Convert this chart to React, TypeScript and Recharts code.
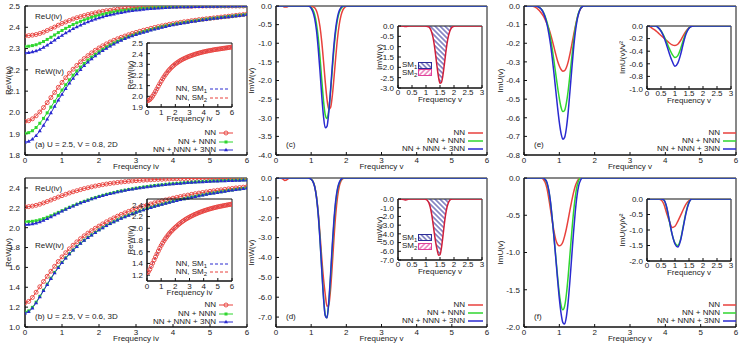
import React from 'react';
import { ComposedChart, Line, Area, XAxis, YAxis, ReferenceArea } from 'recharts';

const FONT = '"Liberation Sans", Arial, Helvetica, sans-serif';
const INK = '#222';
const RED = '#e8413c';
const GREEN = '#2fd62f';
const BLUE = '#2a2ad0';
const CRIMSON = '#cf1f3a';
const HATCH = '#2c2c98';
const PINK = '#e0409a';

// Matsubara frequencies iv (panels a, b)
const freqIv = [
  0, 0.1, 0.2, 0.3, 0.4, 0.5, 0.6, 0.7, 0.8, 0.9,
  1.0, 1.1, 1.2, 1.3, 1.4, 1.5, 1.6, 1.7, 1.8, 1.9,
  2.0, 2.1, 2.2, 2.3, 2.4, 2.5, 2.6, 2.7, 2.8, 2.9,
  3.0, 3.1, 3.2, 3.3, 3.4, 3.5, 3.6, 3.7, 3.8, 3.9,
  4.0, 4.1, 4.2, 4.3, 4.4, 4.5, 4.6, 4.7, 4.8, 4.9,
  5.0, 5.1, 5.2, 5.3, 5.4, 5.5, 5.6, 5.7, 5.8, 5.9,
  6.0,
];

// (a) U = 2.5, V = 0.8, 2D
const reUA_NN = [
  2.360, 2.361, 2.363, 2.366, 2.371, 2.377, 2.385, 2.393, 2.401, 2.410,
  2.418, 2.425, 2.432, 2.439, 2.445, 2.450, 2.455, 2.460, 2.464, 2.468,
  2.472, 2.475, 2.478, 2.480, 2.483, 2.485, 2.487, 2.489, 2.490, 2.492,
  2.493, 2.494, 2.495, 2.496, 2.496, 2.497, 2.497, 2.498, 2.498, 2.498,
  2.499, 2.499, 2.499, 2.499, 2.499, 2.499, 2.500, 2.500, 2.500, 2.500,
  2.500, 2.500, 2.500, 2.500, 2.500, 2.500, 2.500, 2.500, 2.500, 2.500,
  2.500,
];
const reUA_NNN = [
  2.310, 2.311, 2.314, 2.318, 2.325, 2.333, 2.343, 2.353, 2.364, 2.375,
  2.385, 2.395, 2.404, 2.413, 2.421, 2.428, 2.435, 2.441, 2.447, 2.452,
  2.457, 2.461, 2.465, 2.469, 2.472, 2.475, 2.478, 2.480, 2.482, 2.484,
  2.486, 2.488, 2.489, 2.490, 2.491, 2.492, 2.493, 2.494, 2.495, 2.495,
  2.496, 2.496, 2.497, 2.497, 2.497, 2.498, 2.498, 2.498, 2.498, 2.499,
  2.499, 2.499, 2.499, 2.499, 2.499, 2.500, 2.500, 2.500, 2.500, 2.500,
  2.500,
];
const reUA_3NN = [
  2.280, 2.281, 2.284, 2.289, 2.296, 2.305, 2.316, 2.327, 2.339, 2.351,
  2.362, 2.373, 2.383, 2.393, 2.402, 2.410, 2.418, 2.425, 2.432, 2.438,
  2.444, 2.449, 2.454, 2.458, 2.462, 2.466, 2.469, 2.472, 2.475, 2.478,
  2.480, 2.482, 2.484, 2.486, 2.487, 2.488, 2.490, 2.491, 2.492, 2.493,
  2.494, 2.494, 2.495, 2.495, 2.496, 2.496, 2.497, 2.497, 2.497, 2.498,
  2.498, 2.498, 2.498, 2.499, 2.499, 2.499, 2.499, 2.499, 2.500, 2.500,
  2.500,
];
const reWA_NN = [
  1.958, 1.961, 1.970, 1.984, 2.002, 2.023, 2.046, 2.070, 2.094, 2.118,
  2.141, 2.163, 2.184, 2.203, 2.221, 2.238, 2.253, 2.267, 2.280, 2.292,
  2.303, 2.313, 2.322, 2.331, 2.339, 2.346, 2.353, 2.359, 2.365, 2.371,
  2.376, 2.381, 2.386, 2.390, 2.395, 2.399, 2.403, 2.407, 2.410, 2.414,
  2.417, 2.420, 2.423, 2.426, 2.428, 2.431, 2.433, 2.436, 2.438, 2.440,
  2.442, 2.444, 2.446, 2.448, 2.450, 2.452, 2.454, 2.456, 2.458, 2.460,
  2.462,
];
const reWA_NNN = [
  1.902, 1.905, 1.914, 1.929, 1.949, 1.972, 1.998, 2.025, 2.052, 2.079,
  2.105, 2.130, 2.153, 2.175, 2.195, 2.213, 2.230, 2.246, 2.260, 2.273,
  2.285, 2.296, 2.307, 2.317, 2.326, 2.334, 2.342, 2.349, 2.356, 2.362,
  2.368, 2.374, 2.379, 2.384, 2.389, 2.393, 2.398, 2.402, 2.406, 2.409,
  2.413, 2.416, 2.419, 2.422, 2.425, 2.428, 2.430, 2.433, 2.435, 2.438,
  2.440, 2.442, 2.444, 2.446, 2.448, 2.450, 2.452, 2.454, 2.456, 2.458,
  2.460,
];
const reWA_3NN = [
  1.860, 1.864, 1.874, 1.891, 1.913, 1.939, 1.968, 1.998, 2.028, 2.057,
  2.085, 2.112, 2.137, 2.160, 2.181, 2.201, 2.219, 2.236, 2.251, 2.265,
  2.278, 2.290, 2.301, 2.311, 2.321, 2.330, 2.338, 2.346, 2.353, 2.359,
  2.365, 2.371, 2.376, 2.381, 2.386, 2.391, 2.395, 2.399, 2.403, 2.407,
  2.411, 2.414, 2.417, 2.420, 2.423, 2.426, 2.429, 2.431, 2.434, 2.436,
  2.439, 2.441, 2.443, 2.445, 2.447, 2.449, 2.451, 2.453, 2.455, 2.457,
  2.459,
];

// (b) U = 2.5, V = 0.6, 3D
const reUB_NN = [
  2.210, 2.212, 2.217, 2.225, 2.236, 2.249, 2.263, 2.278, 2.293, 2.308,
  2.322, 2.336, 2.349, 2.361, 2.372, 2.383, 2.393, 2.402, 2.411, 2.419,
  2.426, 2.433, 2.439, 2.445, 2.450, 2.455, 2.459, 2.463, 2.467, 2.470,
  2.473, 2.476, 2.478, 2.480, 2.482, 2.484, 2.486, 2.487, 2.489, 2.490,
  2.491, 2.492, 2.493, 2.494, 2.494, 2.495, 2.496, 2.496, 2.497, 2.497,
  2.497, 2.498, 2.498, 2.498, 2.498, 2.499, 2.499, 2.499, 2.499, 2.499,
  2.500,
];
const reUB_NNN = [
  2.060, 2.061, 2.064, 2.070, 2.079, 2.091, 2.105, 2.120, 2.137, 2.154,
  2.171, 2.188, 2.205, 2.221, 2.236, 2.251, 2.265, 2.278, 2.291, 2.303,
  2.314, 2.325, 2.335, 2.344, 2.353, 2.362, 2.370, 2.377, 2.384, 2.391,
  2.397, 2.403, 2.409, 2.414, 2.419, 2.424, 2.428, 2.432, 2.436, 2.440,
  2.443, 2.446, 2.449, 2.452, 2.455, 2.457, 2.460, 2.462, 2.464, 2.466,
  2.468, 2.470, 2.471, 2.473, 2.474, 2.476, 2.477, 2.478, 2.479, 2.480,
  2.481,
];
const reUB_3NN = [
  2.030, 2.032, 2.037, 2.046, 2.058, 2.073, 2.090, 2.108, 2.127, 2.146,
  2.165, 2.183, 2.200, 2.217, 2.233, 2.248, 2.262, 2.275, 2.288, 2.300,
  2.311, 2.322, 2.332, 2.341, 2.350, 2.359, 2.367, 2.374, 2.381, 2.388,
  2.394, 2.400, 2.406, 2.411, 2.416, 2.421, 2.425, 2.429, 2.433, 2.437,
  2.440, 2.443, 2.446, 2.449, 2.452, 2.454, 2.457, 2.459, 2.461, 2.463,
  2.465, 2.467, 2.468, 2.470, 2.471, 2.473, 2.474, 2.475, 2.476, 2.477,
  2.478,
];
const reWB_NN = [
  1.244, 1.258, 1.297, 1.350, 1.405, 1.458, 1.510, 1.561, 1.611, 1.660,
  1.706, 1.748, 1.787, 1.823, 1.857, 1.889, 1.918, 1.945, 1.970, 1.994,
  2.016, 2.038, 2.059, 2.079, 2.098, 2.116, 2.133, 2.149, 2.164, 2.178,
  2.191, 2.204, 2.216, 2.228, 2.239, 2.250, 2.260, 2.270, 2.279, 2.288,
  2.297, 2.305, 2.313, 2.321, 2.328, 2.335, 2.342, 2.348, 2.354, 2.360,
  2.366, 2.371, 2.376, 2.381, 2.386, 2.391, 2.395, 2.400, 2.404, 2.408,
  2.412,
];
const reWB_NNN = [
  1.150, 1.162, 1.198, 1.250, 1.309, 1.370, 1.431, 1.490, 1.548, 1.601,
  1.650, 1.695, 1.737, 1.775, 1.810, 1.843, 1.873, 1.901, 1.927, 1.952,
  1.978, 2.000, 2.021, 2.041, 2.060, 2.078, 2.095, 2.111, 2.126, 2.140,
  2.154, 2.167, 2.180, 2.192, 2.204, 2.215, 2.226, 2.236, 2.246, 2.256,
  2.265, 2.274, 2.283, 2.291, 2.299, 2.307, 2.315, 2.322, 2.329, 2.336,
  2.343, 2.349, 2.355, 2.361, 2.367, 2.373, 2.378, 2.384, 2.389, 2.394,
  2.399,
];
const reWB_3NN = [
  1.140, 1.153, 1.190, 1.243, 1.303, 1.365, 1.427, 1.487, 1.545, 1.598,
  1.648, 1.693, 1.735, 1.773, 1.808, 1.841, 1.871, 1.899, 1.925, 1.950,
  1.976, 1.998, 2.019, 2.039, 2.058, 2.076, 2.093, 2.109, 2.124, 2.138,
  2.152, 2.165, 2.178, 2.190, 2.202, 2.213, 2.224, 2.234, 2.244, 2.254,
  2.263, 2.272, 2.281, 2.289, 2.297, 2.305, 2.313, 2.320, 2.327, 2.334,
  2.341, 2.347, 2.353, 2.359, 2.365, 2.371, 2.376, 2.382, 2.387, 2.392,
  2.397,
];

// real frequencies v for ImW (panels c, d)
const freqW = [
  0, 0.1, 0.2, 0.25, 0.3, 0.35, 0.4, 0.5, 0.6, 0.7, 0.8, 0.9,
  0.95, 1.0, 1.05, 1.1, 1.15, 1.2, 1.25, 1.3, 1.35, 1.4, 1.45, 1.5,
  1.55, 1.6, 1.65, 1.7, 1.75, 1.8, 1.85, 1.9, 1.95, 2.0, 2.05, 2.1,
  2.2, 2.5, 3, 4, 5, 6,
];
const imWC_NN = [
  0, 0, -0.01, -0.03, -0.03, -0.01, 0, 0, 0, 0, 0, 0,
  0, -0.01, -0.02, -0.05, -0.13, -0.29, -0.55, -0.95, -1.47, -2.03, -2.50, -2.77,
  -2.73, -2.42, -1.92, -1.36, -0.86, -0.49, -0.25, -0.11, -0.04, -0.01, 0, 0,
  0, 0, 0, 0, 0, 0,
];
const imWC_NNN = [
  0, 0, 0, 0, 0, 0, 0, 0, 0, 0, 0, 0,
  -0.01, -0.04, -0.10, -0.23, -0.47, -0.84, -1.36, -1.96, -2.53, -2.92, -3.02, -2.80,
  -2.32, -1.72, -1.14, -0.68, -0.36, -0.17, -0.07, -0.02, 0, 0, 0, 0,
  0, 0, 0, 0, 0, 0,
];
const imWC_3NN = [
  0, 0, 0, 0, 0, 0, 0, 0, 0, 0, 0, 0,
  -0.01, -0.06, -0.16, -0.34, -0.65, -1.13, -1.74, -2.40, -2.96, -3.27, -3.23, -2.86,
  -2.27, -1.61, -1.02, -0.58, -0.29, -0.12, -0.04, 0, 0, 0, 0, 0,
  0, 0, 0, 0, 0, 0,
];
const imWD_NN = [
  0, 0, -0.05, -0.12, -0.10, -0.03, 0, 0, 0, 0, 0, 0,
  0, -0.06, -0.17, -0.42, -0.92, -1.72, -2.80, -4.00, -5.05, -5.85, -6.46, -6.40,
  -5.65, -4.40, -3.00, -1.80, -0.95, -0.42, -0.15, -0.04, 0, 0, 0, 0,
  0, 0, 0, 0, 0, 0,
];
const imWD_NNN = [
  0, 0, 0, 0, 0, 0, 0, 0, 0, 0, 0, 0,
  -0.02, -0.06, -0.17, -0.43, -0.94, -1.79, -3.04, -4.52, -5.93, -6.88, -7.03, -6.32,
  -5.05, -3.56, -2.22, -1.22, -0.59, -0.26, -0.08, -0.01, 0, 0, 0, 0,
  0, 0, 0, 0, 0, 0,
];
const imWD_3NN = [
  0, 0, 0, 0, 0, 0, 0, 0, 0, 0, 0, 0,
  -0.02, -0.06, -0.18, -0.44, -0.96, -1.83, -3.10, -4.60, -6.01, -6.93, -7.05, -6.24,
  -4.90, -3.38, -2.06, -1.10, -0.52, -0.22, -0.06, 0, 0, 0, 0, 0,
  0, 0, 0, 0, 0, 0,
];

// real frequencies v for ImU (panels e, f)
const freqU = [
  0, 0.1,
  0.2, 0.25, 0.3, 0.35, 0.4, 0.45,
  0.5, 0.55, 0.6, 0.65, 0.7, 0.75, 0.8, 0.85, 0.9, 0.95,
  1.0, 1.05, 1.1, 1.15, 1.2, 1.25, 1.3, 1.35, 1.4, 1.45,
  1.5, 1.55, 1.6, 1.65, 1.7, 1.75, 1.8,
  1.9, 2.0, 2.5, 3, 4, 5, 6,
];
const imUE_NN = [
  0, 0,
  0, -0.002, -0.005, -0.01, -0.018, -0.028,
  -0.04, -0.055, -0.073, -0.095, -0.12, -0.15, -0.185, -0.222, -0.26, -0.295,
  -0.322, -0.341, -0.35, -0.347, -0.33, -0.30, -0.258, -0.21, -0.16, -0.112,
  -0.07, -0.038, -0.016, -0.004, 0, 0, 0,
  0, 0, 0, 0, 0, 0, 0,
];
const imUE_NNN = [
  0, 0,
  0, 0, 0, 0, -0.004, -0.01,
  -0.019, -0.034, -0.056, -0.086, -0.125, -0.173, -0.232, -0.297, -0.367, -0.435,
  -0.496, -0.545, -0.567, -0.56, -0.52, -0.455, -0.37, -0.28, -0.195, -0.122,
  -0.07, -0.034, -0.013, -0.003, 0, 0, 0,
  0, 0, 0, 0, 0, 0, 0,
];
const imUE_3NN = [
  0, 0,
  0, 0, 0, 0, -0.004, -0.01,
  -0.02, -0.037, -0.062, -0.097, -0.145, -0.205, -0.28, -0.365, -0.455, -0.545,
  -0.625, -0.685, -0.715, -0.705, -0.655, -0.57, -0.46, -0.345, -0.235, -0.145,
  -0.08, -0.038, -0.014, -0.003, 0, 0, 0,
  0, 0, 0, 0, 0, 0, 0,
];
const imUF_NN = [
  0, 0,
  0, 0, 0, 0, 0, 0,
  0, -0.02, -0.06, -0.14, -0.27, -0.42, -0.58, -0.72, -0.83, -0.89,
  -0.91, -0.90, -0.86, -0.78, -0.68, -0.56, -0.43, -0.31, -0.20, -0.11,
  -0.05, -0.015, 0, 0, 0, 0, 0,
  0, 0, 0, 0, 0, 0, 0,
];
const imUF_NNN = [
  0, 0,
  0, 0, 0, 0, 0, 0,
  0, 0, -0.02, -0.07, -0.17, -0.33, -0.55, -0.80, -1.06, -1.32,
  -1.55, -1.71, -1.77, -1.72, -1.56, -1.32, -1.03, -0.74, -0.47, -0.26,
  -0.11, -0.03, 0, 0, 0, 0, 0,
  0, 0, 0, 0, 0, 0, 0,
];
const imUF_3NN = [
  0, 0,
  0, 0, 0, 0, 0, 0,
  0, 0, -0.02, -0.06, -0.16, -0.32, -0.55, -0.80, -1.08, -1.36,
  -1.62, -1.82, -1.94, -1.96, -1.86, -1.66, -1.38, -1.06, -0.74, -0.46,
  -0.24, -0.10, -0.03, 0, 0, 0, 0,
  0, 0, 0, 0, 0, 0, 0,
];

// insets of (e), (f): ImU(v)/v^2
const freqIns = [0, 0.1, 0.2, 0.3, 0.4, 0.5, 0.6, 0.7, 0.8, 0.9, 1.0, 1.1, 1.2, 1.3, 1.4, 1.5, 1.6, 1.7, 1.8, 1.9, 2.0, 2.5, 3];
const insE_NN = [0, -0.01, -0.04, -0.07, -0.11, -0.15, -0.19, -0.23, -0.27, -0.30, -0.31, -0.29, -0.23, -0.15, -0.08, -0.03, -0.005, 0, 0, 0, 0, 0, 0];
const insE_NNN = [0, 0, 0, 0, -0.025, -0.076, -0.156, -0.255, -0.36, -0.45, -0.50, -0.47, -0.36, -0.22, -0.10, -0.03, -0.005, 0, 0, 0, 0, 0, 0];
const insE_3NN = [0, 0, 0, 0, -0.025, -0.08, -0.17, -0.30, -0.44, -0.56, -0.64, -0.59, -0.455, -0.27, -0.12, -0.036, -0.005, 0, 0, 0, 0, 0, 0];
const insF_NN = [0, 0, 0, 0, 0, -0.03, -0.16, -0.45, -0.72, -0.92, -0.88, -0.72, -0.53, -0.33, -0.16, -0.05, 0, 0, 0, 0, 0, 0, 0];
const insF_NNN = [0, 0, 0, 0, 0, 0, -0.03, -0.27, -0.72, -1.15, -1.42, -1.50, -1.30, -0.85, -0.40, -0.10, 0, 0, 0, 0, 0, 0, 0];
const insF_3NN = [0, 0, 0, 0, 0, 0, -0.03, -0.25, -0.70, -1.15, -1.45, -1.55, -1.33, -0.88, -0.43, -0.12, 0, 0, 0, 0, 0, 0, 0];

// ticks
const ticks06 = [0, 1, 2, 3, 4, 5, 6];
const ticks03 = [0, 0.5, 1, 1.5, 2, 2.5, 3];
const yTicksA = [1.8, 1.9, 2.0, 2.1, 2.2, 2.3, 2.4, 2.5];
const yTicksB = [1.0, 1.2, 1.4, 1.6, 1.8, 2.0, 2.2, 2.4];
const yTicksC = [-4, -3.5, -3, -2.5, -2, -1.5, -1, -0.5, 0];
const yTicksD = [-7, -6, -5, -4, -3, -2, -1, 0];
const yTicksE = [-0.8, -0.7, -0.6, -0.5, -0.4, -0.3, -0.2, -0.1, 0];
const yTicksF = [-2, -1.5, -1, -0.5, 0];
const yTicksInA = [1.9, 2.0, 2.1, 2.2, 2.3, 2.4, 2.5];
const yTicksInB = [1.2, 1.4, 1.6, 1.8, 2.0, 2.2, 2.4];
const yTicksInC = [-3, -2.5, -2, -1.5, -1, -0.5, 0];
const yTicksInD = [-7, -6, -5, -4, -3, -2, -1, 0];
const yTicksInE = [-1, -0.8, -0.6, -0.4, -0.2, 0];
const yTicksInF = [-2, -1.5, -1, -0.5, 0];

const rowsOf = (xs: number[], cols: Record<string, number[]>) =>
  xs.map((x, i) => {
    const r: Record<string, number> = { x };
    for (const k of Object.keys(cols)) r[k] = cols[k][i];
    return r;
  });

const f1 = (v: number) => v.toFixed(1);

type Marker = 'circle' | 'square' | 'triangle';
type Series = { key: string; color: string; width?: number; dash?: string; marker?: Marker; linear?: boolean };

function drawMarker(kind: Marker, cx: number, cy: number, color: string, key?: string) {
  if (kind === 'circle')
    return <circle key={key} cx={cx} cy={cy} r={2} fill="none" stroke={color} strokeWidth={0.9} />;
  if (kind === 'square')
    return <rect key={key} x={cx - 1.5} y={cy - 1.5} width={3} height={3} fill={color} />;
  return <path key={key} d={`M${cx},${cy - 2.2}L${cx + 2},${cy + 1.3}L${cx - 2},${cy + 1.3}Z`} fill={color} />;
}

function hatchPattern(id: string, color: string, angle: number) {
  return (
    <pattern id={id} patternUnits="userSpaceOnUse" width={3.5} height={3.5} patternTransform={`rotate(${angle})`}>
      <line x1={1.75} y1={0} x2={1.75} y2={3.5} stroke={color} strokeWidth={1} />
    </pattern>
  );
}

interface PanelProps {
  left: number; top: number; width: number; height: number;
  mt: number; mr: number; yw: number; xh: number;
  data: Record<string, number>[];
  series: Series[];
  xDomain: [number, number]; xTicks: number[];
  yDomain: [number, number]; yTicks: number[];
  xLabel: string; xLabelOffset: number; xTickMargin: number;
  yLabel: string; yLabelOffset: number; yTickMargin: number;
  xFmt?: (v: number) => string;
  hatch?: { key: string; id: string };
}

function Panel(p: PanelProps) {
  const tickStyle = { fontSize: 8, fill: INK, fontFamily: FONT };
  return (
    <div style={{ position: 'absolute', left: p.left, top: p.top }}>
      <ComposedChart
        width={p.width}
        height={p.height}
        data={p.data}
        margin={{ top: p.mt, right: p.mr, bottom: 0, left: 0 }}
      >
        {p.hatch && <defs>{hatchPattern(p.hatch.id, HATCH, -45)}</defs>}
        <XAxis
          dataKey="x"
          type="number"
          domain={p.xDomain}
          ticks={p.xTicks}
          interval={0}
          allowDataOverflow
          height={p.xh}
          stroke="#111"
          tickSize={-3}
          tickMargin={p.xTickMargin}
          tick={tickStyle}
          tickFormatter={p.xFmt}
          label={{ value: p.xLabel, position: 'insideBottom', offset: p.xLabelOffset, fontSize: 8, fill: INK, fontFamily: FONT }}
        />
        <YAxis
          type="number"
          domain={p.yDomain}
          ticks={p.yTicks}
          interval={0}
          allowDataOverflow
          width={p.yw}
          stroke="#111"
          tickSize={-3}
          tickMargin={p.yTickMargin}
          tick={tickStyle}
          tickFormatter={f1}
          label={{
            value: p.yLabel, angle: -90, position: 'insideLeft', offset: p.yLabelOffset,
            fontSize: 8, fill: INK, fontFamily: FONT, style: { textAnchor: 'middle' },
          }}
        />
        <ReferenceArea
          x1={p.xDomain[0]} x2={p.xDomain[1]} y1={p.yDomain[0]} y2={p.yDomain[1]}
          fill="none" stroke="#111" strokeWidth={1} ifOverflow="visible"
        />
        {p.hatch && (
          <Area
            type="monotone"
            dataKey={p.hatch.key}
            baseValue={0}
            fill={`url(#${p.hatch.id})`}
            fillOpacity={1}
            stroke="none"
            isAnimationActive={false}
            activeDot={false}
          />
        )}
        {p.series.map((s, n) => (
          <Line
            key={s.key + n}
            type={s.linear ? 'linear' : 'monotone'}
            dataKey={s.key}
            stroke={s.color}
            strokeWidth={s.width ?? 1.5}
            strokeDasharray={s.dash}
            dot={
              s.marker
                ? (d: any) =>
                    d.cx == null ? <g key={`${s.key}-${n}-${d.index}`} /> : drawMarker(s.marker as Marker, d.cx, d.cy, s.color, `${s.key}-${n}-${d.index}`)
                : false
            }
            activeDot={false}
            isAnimationActive={false}
          />
        ))}
      </ComposedChart>
    </div>
  );
}

type KeyRow = { label: React.ReactNode; color: string; marker?: Marker; dash?: string; width?: number };

function KeyBox({ right, y0, gap, sw, rows }: { right: number; y0: number; gap: number; sw: number; rows: KeyRow[] }) {
  return (
    <>
      {rows.map((r, i) => {
        const cy = y0 + i * gap;
        return (
          <React.Fragment key={i}>
            <div
              style={{
                position: 'absolute', left: right - 150, width: 150, top: cy - 4, height: 8,
                lineHeight: '8px', fontSize: 8, textAlign: 'right', whiteSpace: 'nowrap',
              }}
            >
              {r.label}
            </div>
            <svg style={{ position: 'absolute', left: right + 3, top: cy - 4 }} width={sw} height={8}>
              <line x1={0} y1={4} x2={sw} y2={4} stroke={r.color} strokeWidth={r.width ?? 1.5} strokeDasharray={r.dash} />
              {r.marker && drawMarker(r.marker, sw / 2, 4, r.color)}
            </svg>
          </React.Fragment>
        );
      })}
    </>
  );
}

function HatchKey({ left, y0, gap, ids }: { left: number; y0: number; gap: number; ids: [string, string] }) {
  const items = [
    { n: '1', color: HATCH, angle: -45, id: ids[0] },
    { n: '2', color: PINK, angle: 45, id: ids[1] },
  ];
  return (
    <>
      {items.map((it, i) => {
        const cy = y0 + i * gap;
        return (
          <React.Fragment key={it.n}>
            <div style={{ position: 'absolute', left, top: cy - 4, lineHeight: '8px', fontSize: 8, whiteSpace: 'nowrap' }}>
              SM<span style={{ fontSize: 6, position: 'relative', top: 2 }}>{it.n}</span>
            </div>
            <svg style={{ position: 'absolute', left: left + 16, top: cy - 3.5 }} width={14} height={7}>
              <defs>{hatchPattern(it.id, it.color, it.angle)}</defs>
              <rect x={0.5} y={0.5} width={13} height={6} fill={`url(#${it.id})`} stroke={it.color} strokeWidth={1} />
            </svg>
          </React.Fragment>
        );
      })}
    </>
  );
}

function Txt({ x, y, children }: { x: number; y: number; children: React.ReactNode }) {
  return (
    <div style={{ position: 'absolute', left: x, top: y - 4, lineHeight: '8px', fontSize: 8, whiteSpace: 'nowrap' }}>
      {children}
    </div>
  );
}

const matsubaraSeries: Series[] = [
  { key: 'uNN', color: RED, width: 1, marker: 'circle', linear: true },
  { key: 'wNN', color: RED, width: 1, marker: 'circle', linear: true },
  { key: 'uNNN', color: GREEN, width: 1, marker: 'square', linear: true },
  { key: 'wNNN', color: GREEN, width: 1, marker: 'square', linear: true },
  { key: 'u3NN', color: BLUE, width: 1, marker: 'triangle', linear: true },
  { key: 'w3NN', color: BLUE, width: 1, marker: 'triangle', linear: true },
];
const imSeries: Series[] = [
  { key: 'nn', color: RED },
  { key: 'nnn', color: GREEN },
  { key: 'n3', color: BLUE },
];
const smSeries: Series[] = [
  { key: 'sm1', color: BLUE, width: 1, dash: '3 2', linear: true },
  { key: 'sm2', color: RED, width: 1, dash: '3 2', marker: 'circle', linear: true },
];

const dataA = rowsOf(freqIv, { uNN: reUA_NN, uNNN: reUA_NNN, u3NN: reUA_3NN, wNN: reWA_NN, wNNN: reWA_NNN, w3NN: reWA_3NN });
const dataB = rowsOf(freqIv, { uNN: reUB_NN, uNNN: reUB_NNN, u3NN: reUB_3NN, wNN: reWB_NN, wNNN: reWB_NNN, w3NN: reWB_3NN });
const dataInA = rowsOf(freqIv, { sm1: reWA_NN, sm2: reWA_NN });
const dataInB = rowsOf(freqIv, { sm1: reWB_NN, sm2: reWB_NN });
const dataC = rowsOf(freqW, { nn: imWC_NN, nnn: imWC_NNN, n3: imWC_3NN });
const dataD = rowsOf(freqW, { nn: imWD_NN, nnn: imWD_NNN, n3: imWD_3NN });
const dataInC = rowsOf(freqW, { w: imWC_NN });
const dataInD = rowsOf(freqW, { w: imWD_NN });
const dataE = rowsOf(freqU, { nn: imUE_NN, nnn: imUE_NNN, n3: imUE_3NN });
const dataF = rowsOf(freqU, { nn: imUF_NN, nnn: imUF_NNN, n3: imUF_3NN });
const dataInE = rowsOf(freqIns, { nn: insE_NN, nnn: insE_NNN, n3: insE_3NN });
const dataInF = rowsOf(freqIns, { nn: insF_NN, nnn: insF_NNN, n3: insF_3NN });

const mainKeyRows = (withMarkers: boolean): KeyRow[] => [
  { label: 'NN', color: RED, marker: withMarkers ? 'circle' : undefined, width: withMarkers ? 1 : 1.5 },
  { label: 'NN + NNN', color: GREEN, marker: withMarkers ? 'square' : undefined, width: withMarkers ? 1 : 1.5 },
  { label: 'NN + NNN + 3NN', color: BLUE, marker: withMarkers ? 'triangle' : undefined, width: withMarkers ? 1 : 1.5 },
];
const smKeyRows: KeyRow[] = [
  { label: <>NN, SM<span style={{ fontSize: 6, position: 'relative', top: 2 }}>1</span></>, color: BLUE, dash: '3 2', width: 1 },
  { label: <>NN, SM<span style={{ fontSize: 6, position: 'relative', top: 2 }}>2</span></>, color: RED, dash: '3 2', width: 1 },
];

export default function App() {
  const mainA = { width: 250, height: 172, mt: 6, mr: 3, yw: 25, xh: 17, xDomain: [0, 6] as [number, number], xTicks: ticks06, xLabelOffset: 3, xTickMargin: 5, yTickMargin: 8, yLabelOffset: 8 };
  const mainC = { ...mainA, width: 245, yw: 31, mr: 3, yTickMargin: 7, yLabelOffset: 6 };
  const mainE = { ...mainA, width: 250, yw: 34, mr: 4, yTickMargin: 7, yLabelOffset: 10 };
  const insetAB = { width: 114, mt: 6, mr: 3, yw: 26, xh: 16, xDomain: [0, 6] as [number, number], xTicks: ticks06, xTickMargin: 5, xLabelOffset: 2, yTickMargin: 7, yLabelOffset: 9 };
  const insetCD = { width: 113, mt: 6, mr: 3, yw: 26, xh: 16, xDomain: [0, 3] as [number, number], xTicks: ticks03, xTickMargin: 4, xLabelOffset: 2, yTickMargin: 7, yLabelOffset: 7, xFmt: (v: number) => String(v) };
  const insetEF = { ...insetCD, width: 115, yw: 28, yLabelOffset: 3 };

  return (
    <div
      style={{
        position: 'absolute', left: 0, top: 0, width: 740, height: 344, background: '#fff',
        fontFamily: FONT, color: INK, overflow: 'hidden',
      }}
    >
      {/* (a) */}
      <Panel {...mainA} left={0} top={0} data={dataA} series={matsubaraSeries}
        yDomain={[1.8, 2.5]} yTicks={yTicksA} xLabel="Frequency iv" yLabel="ReW(iv)" />
      <Panel {...insetAB} left={121} top={37} height={86} data={dataInA} series={smSeries}
        yDomain={[1.9, 2.5]} yTicks={yTicksInA} xLabel="Frequency iv" yLabel="ReW(iv)" />
      <Txt x={35} y={17}>ReU(iv)</Txt>
      <Txt x={35} y={72}>ReW(iv)</Txt>
      <Txt x={35} y={145}>(a) U = 2.5, V = 0.8, 2D</Txt>
      <KeyBox right={216} y0={133.3} gap={8.4} sw={14} rows={mainKeyRows(true)} />
      <KeyBox right={207} y0={89} gap={8.7} sw={20} rows={smKeyRows} />

      {/* (b) */}
      <Panel {...mainA} left={0} top={172} data={dataB} series={matsubaraSeries}
        yDomain={[1.0, 2.5]} yTicks={yTicksB} xLabel="Frequency iv" yLabel="ReW(iv)" />
      <Panel {...insetAB} left={121} top={193} height={104} data={dataInB} series={smSeries}
        yDomain={[1.1, 2.5]} yTicks={yTicksInB} xLabel="Frequency iv" yLabel="ReW(iv)" />
      <Txt x={35} y={189}>ReU(iv)</Txt>
      <Txt x={35} y={246}>ReW(iv)</Txt>
      <Txt x={35} y={317}>(b) U = 2.5, V = 0.6, 3D</Txt>
      <KeyBox right={216} y0={305.3} gap={8.4} sw={14} rows={mainKeyRows(true)} />
      <KeyBox right={207} y0={263.5} gap={8.7} sw={20} rows={smKeyRows} />

      {/* (c) */}
      <Panel {...mainC} left={245} top={0} data={dataC} series={imSeries}
        yDomain={[-4, 0]} yTicks={yTicksC} xLabel="Frequency v" yLabel="ImW(v)" />
      <Panel {...insetCD} left={372} top={20} height={84} data={dataInC}
        series={[{ key: 'w', color: CRIMSON }]} hatch={{ key: 'w', id: 'hatchInC' }}
        yDomain={[-3, 0]} yTicks={yTicksInC} xLabel="Frequency v" yLabel="ImW(v)" />
      <Txt x={286} y={145}>(c)</Txt>
      <KeyBox right={465} y0={133.3} gap={8} sw={15} rows={mainKeyRows(false)} />
      <HatchKey left={402} y0={65} gap={7.7} ids={['keyC1', 'keyC2']} />

      {/* (d) */}
      <Panel {...mainC} left={245} top={172} data={dataD} series={imSeries}
        yDomain={[-7.5, 0]} yTicks={yTicksD} xLabel="Frequency v" yLabel="ImW(v)" />
      <Panel {...insetCD} left={372} top={193} height={83} data={dataInD}
        series={[{ key: 'w', color: CRIMSON }]} hatch={{ key: 'w', id: 'hatchInD' }}
        yDomain={[-7, 0]} yTicks={yTicksInD} xLabel="Frequency v" yLabel="ImW(v)" />
      <Txt x={286} y={317}>(d)</Txt>
      <KeyBox right={465} y0={305.3} gap={8} sw={15} rows={mainKeyRows(false)} />
      <HatchKey left={402} y0={237.7} gap={8.3} ids={['keyD1', 'keyD2']} />

      {/* (e) */}
      <Panel {...mainE} left={490} top={0} data={dataE} series={imSeries}
        yDomain={[-0.8, 0]} yTicks={yTicksE} xLabel="Frequency v" yLabel="ImU(v)" />
      <Panel {...insetEF} left={619} top={20} height={85} data={dataInE} series={imSeries}
        yDomain={[-1, 0]} yTicks={yTicksInE} xLabel="Frequency v" yLabel="ImU(v)/v²" />
      <Txt x={534} y={145}>(e)</Txt>
      <KeyBox right={720} y0={133.3} gap={8} sw={13} rows={mainKeyRows(false)} />

      {/* (f) */}
      <Panel {...mainE} left={490} top={172} data={dataF} series={imSeries}
        yDomain={[-2, 0]} yTicks={yTicksF} xLabel="Frequency v" yLabel="ImU(v)" />
      <Panel {...insetEF} left={619} top={193} height={84} data={dataInF} series={imSeries}
        yDomain={[-2, 0]} yTicks={yTicksInF} xLabel="Frequency v" yLabel="ImU(v)/v²" />
      <Txt x={534} y={317}>(f)</Txt>
      <KeyBox right={720} y0={305.3} gap={8} sw={13} rows={mainKeyRows(false)} />
    </div>
  );
}
